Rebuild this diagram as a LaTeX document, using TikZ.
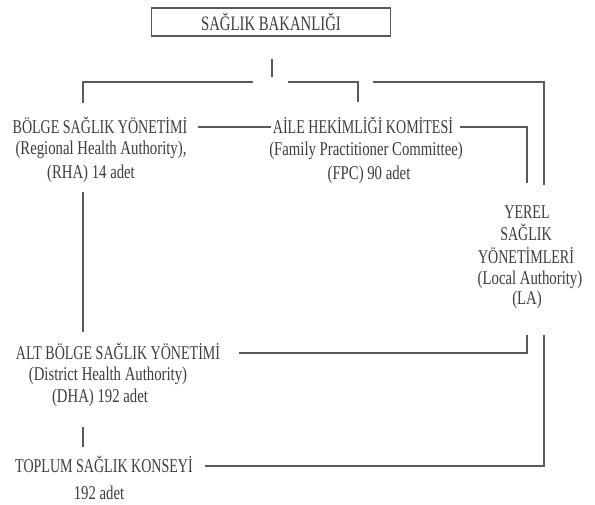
\documentclass[tikz,border=0pt]{standalone}
\usepackage{fontspec}
\setmainfont{Liberation Serif}
\newfontfamily\capsfont{Liberation Serif}[FakeStretch=0.72]
\newfontfamily\lowfont{Liberation Serif}[FakeStretch=0.757]
\usetikzlibrary{calc}
\definecolor{ink}{HTML}{3C3C3C}
\definecolor{wire}{HTML}{5A5A5A}

\begin{document}
\begin{tikzpicture}[x=1pt,y=-1pt,line cap=butt]
  \tikzset{lbl/.style={text=ink,inner sep=0pt,text height=13pt,text depth=0pt,
             font=\capsfont\fontsize{19.5}{22}\selectfont},
           sub/.style={lbl,font=\lowfont\fontsize{19.5}{22}\selectfont},
           link/.style={draw=wire,line width=1.25pt}}
  \useasboundingbox (0,0) rectangle (595,504);

  % ministry
  \node[draw=wire,line width=1.25pt,text=ink,minimum width=239pt,minimum height=28pt,
    font=\capsfont\fontsize{20.5}{23}\selectfont] (bak) at (271,22) {SAĞLIK BAKANLIĞI};

  % regional authority
  \node[lbl] (rha)  at (100,127) {BÖLGE SAĞLIK YÖNETİMİ};
  \node[sub] (rha2) at (101,148) {(Regional Health Authority),};
  \node[sub] (rha3) at (91,172)  {(RHA) 14 adet};

  % family practitioner committee
  \node[lbl] (fpc)  at (363,127) {AİLE HEKİMLİĞİ KOMİTESİ};
  \node[sub] (fpc2) at (366,149) {(Family Practitioner Committee)};
  \node[sub] (fpc3) at (369,173) {(FPC) 90 adet};

  % local authority
  \node[lbl] (la1) at (527,212) {YEREL};
  \node[lbl] (la2) at (526,234) {SAĞLIK};
  \node[lbl] (la3) at (526,257) {YÖNETİMLERİ};
  \node[sub] (la4) at (530,278) {(Local Authority)};
  \node[sub] (la5) at (527,298) {(LA)};

  % district authority
  \node[lbl] (dha)  at (118,353) {ALT BÖLGE SAĞLIK YÖNETİMİ};
  \node[sub] (dha2) at (108,374) {(District Health Authority)};
  \node[sub] (dha3) at (100,396) {(DHA) 192 adet};

  % community council
  \node[lbl] (chc)  at (104,466) {TOPLUM SAĞLIK KONSEYİ};
  \node[sub] (chc2) at (99,493)  {192 adet};

  \coordinate (hub)   at (272,82);
  \coordinate (rhaUp) at (83,103);
  \coordinate (fpcUp) at (358,102);
  \coordinate (laUp)  at (544,185);
  \coordinate (laIn)  at (527,183);
  \coordinate (rhaDn) at (83,192);
  \coordinate (dhaUp) at (83,332);
  \coordinate (laDn)  at (527,335);
  \coordinate (laOut) at (544,335);
  \coordinate (dhaDn) at (83,427);
  \coordinate (chcUp) at (83,447);

  \draw[link] ($(bak.south)+(1,22)$) -- ($(hub)+(0,-5)$);
  \draw[link] (rhaUp) |- ($(hub)+(-19,0)$);
  \draw[link] ($(hub)+(16,0)$) -| (fpcUp);
  \draw[link] ($(hub)+(101,0)$) -| (laUp);
  \draw[link,shorten <=10pt,shorten >=2pt] (rha.east) -- (fpc.west);
  \draw[link,shorten <=7pt] (fpc.east) -| (laIn);
  \draw[link] (rhaDn) -- (dhaUp);
  \draw[link,shorten <=19pt] (dha.east) -| (laDn);
  \draw[link,shorten <=12pt] (chc.east) -| (laOut);
  \draw[link] (dhaDn) -- (chcUp);
\end{tikzpicture}
\end{document}
